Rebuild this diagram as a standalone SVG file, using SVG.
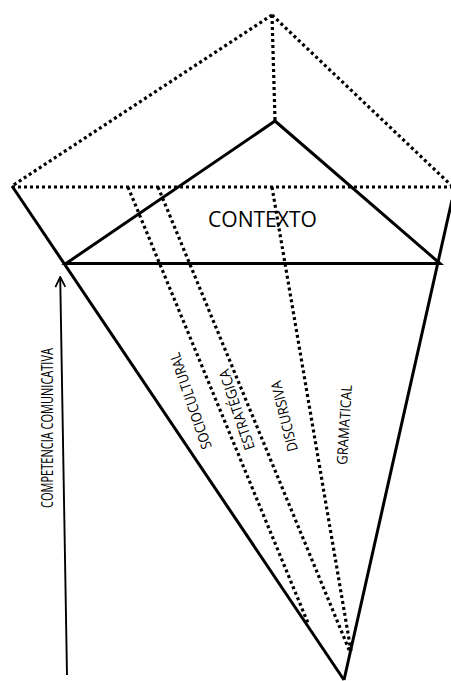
<svg xmlns="http://www.w3.org/2000/svg" width="451" height="681" viewBox="0 0 451 681">
<defs>
<style>
.dot{fill:none;stroke:#000;stroke-width:3.2;stroke-dasharray:3 3;}
.solid{fill:none;stroke:#000;stroke-width:3;stroke-linejoin:miter;}
.lbl{font-family:"Open Sans","Liberation Sans",sans-serif;fill:#000;}
</style>
<marker id="open" viewBox="0 0 12 12" refX="11" refY="6" markerWidth="12" markerHeight="12" markerUnits="userSpaceOnUse" orient="auto">
<path d="M1,1 L11,6 L1,11" fill="none" stroke="#000" stroke-width="1.8"/>
</marker>
</defs>
<rect width="451" height="681" fill="#fff"/>
<g id="pyramid-dotted">
<line class="dot" x1="272" y1="15" x2="12" y2="186"/>
<line class="dot" x1="272" y1="15" x2="453" y2="187"/>
<line class="dot" x1="272" y1="15" x2="275" y2="120"/>
<line class="dot" x1="12" y1="187" x2="451" y2="187"/>
</g>
<g id="component-lines">
<line class="dot" x1="128" y1="187" x2="308" y2="623"/>
<line class="dot" x1="158" y1="187" x2="350" y2="652"/>
<line class="dot" x1="272" y1="187" x2="351" y2="651"/>
</g>
<g id="outer-cone">
<line class="solid" x1="12" y1="186" x2="344" y2="680"/>
<line class="solid" x1="452" y1="200" x2="344" y2="680"/>
</g>
<g id="contexto">
<polygon class="solid" points="275,121 440,263.5 66,263.5"/>
<text class="lbl" x="208" y="227" font-size="22" textLength="109" lengthAdjust="spacingAndGlyphs">CONTEXTO</text>
</g>
<g id="competencia">
<line x1="67" y1="675" x2="60.2" y2="277" stroke="#000" stroke-width="1.9" marker-end="url(#open)"/>
<text class="lbl" transform="translate(53,508) rotate(-90)" font-size="16" textLength="160" lengthAdjust="spacingAndGlyphs">COMPETENCIA COMUNICATIVA</text>
</g>
<g id="labels">
<text class="lbl" transform="translate(212,447) rotate(-109)" font-size="14.5" textLength="101" lengthAdjust="spacingAndGlyphs">SOCIOCULTURAL</text>
<text class="lbl" transform="translate(255,448) rotate(-108.5)" font-size="14.5" textLength="84" lengthAdjust="spacingAndGlyphs">ESTRATÉGICA</text>
<text class="lbl" transform="translate(298,450) rotate(-104)" font-size="14.5" textLength="72" lengthAdjust="spacingAndGlyphs">DISCURSIVA</text>
<text class="lbl" transform="translate(347,465) rotate(-86.4)" font-size="14.5" textLength="80" lengthAdjust="spacingAndGlyphs">GRAMATICAL</text>
</g>
</svg>
